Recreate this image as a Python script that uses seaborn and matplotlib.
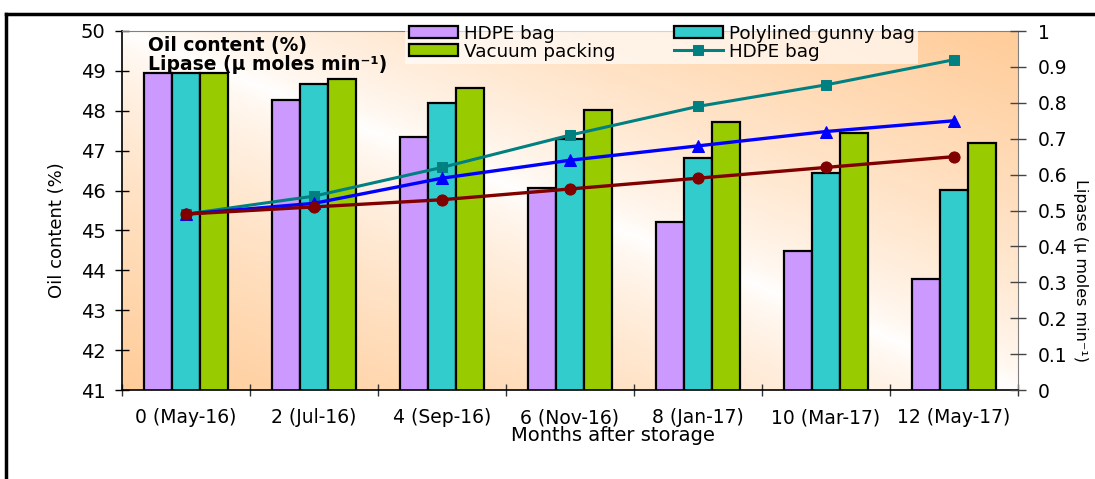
import numpy as np
import pandas as pd
import matplotlib
matplotlib.use("Agg")
import matplotlib.pyplot as plt
import seaborn as sns
from matplotlib.lines import Line2D

# ---------------- data ----------------
months = ["0 (May-16)", "2 (Jul-16)", "4 (Sep-16)", "6 (Nov-16)",
          "8 (Jan-17)", "10 (Mar-17)", "12 (May-17)"]
packages = ["HDPE bag", "Polylined gunny bag", "Vacuum packing"]
oil_hdpe = [48.95, 48.27, 47.35, 46.06, 45.20, 44.49, 43.78]
oil_poly = [48.95, 48.68, 48.20, 47.30, 46.82, 46.43, 46.02]
oil_vacuum = [48.95, 48.80, 48.56, 48.03, 47.73, 47.44, 47.18]
lipase_hdpe = [0.49, 0.54, 0.62, 0.71, 0.79, 0.85, 0.92]
lipase_poly = [0.49, 0.52, 0.59, 0.64, 0.68, 0.72, 0.75]
lipase_vacuum = [0.49, 0.51, 0.53, 0.56, 0.59, 0.62, 0.65]
oil_ticks = [41, 42, 43, 44, 45, 46, 47, 48, 49, 50]
lipase_ticks = [0, 0.1, 0.2, 0.3, 0.4, 0.5, 0.6, 0.7, 0.8, 0.9, 1]

bar_colors = {"HDPE bag": "#CC99FF", "Polylined gunny bag": "#33CCCC",
              "Vacuum packing": "#99CC00"}

plt.rcParams['font.family'] = ['DejaVu Sans']

df = pd.DataFrame({
    "month": months * 3,
    "package": sum([[p] * len(months) for p in packages], []),
    "oil": oil_hdpe + oil_poly + oil_vacuum,
})

fig = plt.figure(figsize=(10.95, 4.79), dpi=100)
fig.patch.set_facecolor("white")
ax = fig.add_axes([122 / 1095, 1 - 390 / 479, (1018 - 122) / 1095, (390 - 31) / 479])

# background gradient (orange corners, white diagonal)
gx, gy = np.meshgrid(np.linspace(0, 1, 300), np.linspace(0, 1, 300))
s = (gx + gy) / 2.0
w = np.clip(np.abs(2 * s - 1), 0, 1) ** 0.7
orange = np.array([255, 204, 153]) / 255.0
img = (1 - w)[..., None] * np.ones(3) + w[..., None] * orange
ax.imshow(img, origin="lower", extent=(0, 1, 0, 1), transform=ax.transAxes,
          aspect="auto", zorder=0, interpolation="bilinear")
ax.patch.set_visible(False)

sns.barplot(data=df, x="month", y="oil", hue="package", order=months,
            hue_order=packages, palette=bar_colors, width=0.656,
            edgecolor="black", linewidth=1.6, saturation=1, ax=ax,
            zorder=2, legend=True)

ax.set_ylim(41, 50)
ax.set_xlim(-0.5, 6.5)
ax.set_yticks(oil_ticks)
ax.set_yticklabels([str(t) for t in oil_ticks], fontsize=14)
ax.tick_params(axis="y", direction="inout", length=9.5, width=1, pad=7, colors="black")
ax.set_xticks(range(len(months)))
ax.set_xticklabels(months, fontsize=13.5)
ax.tick_params(axis="x", which="major", length=0, pad=13)
ax.set_xticks(np.arange(-0.5, len(months), 1.0), minor=True)
ax.tick_params(axis="x", which="minor", direction="inout", length=9, width=1, color="#333333")
ax.set_xlabel("Months after storage", fontsize=14)
ax.xaxis.set_label_coords(0.548, -0.100)
ax.set_ylabel("Oil content (%)", fontsize=13)
ax.yaxis.set_label_coords(-0.0625, 0.445)
for side in ["top", "right"]:
    ax.spines[side].set_color("#808080")
ax.spines["left"].set_color("black")
ax.spines["bottom"].set_color("black")
ax.spines["left"].set_linewidth(1.2)
ax.spines["bottom"].set_linewidth(1.2)
bar_handles, bar_labels = ax.get_legend_handles_labels()
ax.get_legend().remove()

ax2 = ax.twinx()
xpos = np.arange(len(months))
sns.lineplot(x=xpos, y=lipase_hdpe, color="#008080", marker="s", markersize=7,
             markeredgecolor="#008080", linewidth=2.2, ax=ax2, label="HDPE bag", zorder=5)
sns.lineplot(x=xpos, y=lipase_poly, color="#0000FF", marker="^", markersize=8,
             markeredgecolor="#0000FF", linewidth=2.4, ax=ax2, zorder=5)
sns.lineplot(x=xpos, y=lipase_vacuum, color="#800000", marker="o", markersize=8,
             markeredgecolor="#800000", linewidth=2.4, ax=ax2, zorder=5)
line_handles, line_labels = ax2.get_legend_handles_labels()
if ax2.get_legend() is not None:
    ax2.get_legend().remove()
ax2.set_ylim(0, 1)
ax2.set_xlim(-0.5, 6.5)
ax2.set_yticks(lipase_ticks)
ax2.set_yticklabels([f"{t:g}" for t in lipase_ticks], fontsize=13.5)
ax2.tick_params(axis="y", direction="inout", length=11, width=1, pad=9, color="#444444")
ax2.set_ylabel("Lipase (µ moles min⁻¹)", fontsize=11.5, rotation=270)
ax2.yaxis.set_label_coords(1.078, 0.334)
for side in ["top", "right", "left", "bottom"]:
    ax2.spines[side].set_visible(False)
ax.spines["right"].set_visible(True)

# legend
hmap = dict(zip(bar_labels, bar_handles))
handles = [hmap["HDPE bag"], hmap["Vacuum packing"], hmap["Polylined gunny bag"], line_handles[0]]
labels = ["HDPE bag", "Vacuum packing", "Polylined gunny bag", "HDPE bag"]
leg = fig.legend(handles, labels, ncol=2, loc="upper left",
                 bbox_to_anchor=(405 / 1095, 1 - 21 / 479), fontsize=13.2,
                 frameon=True, handlelength=2.7, handleheight=0.65,
                 handletextpad=0.3, columnspacing=3.2, labelspacing=0.0,
                 borderpad=0.2, borderaxespad=0)
leg.get_frame().set_facecolor("white")
leg.get_frame().set_alpha(0.65)
leg.get_frame().set_edgecolor("none")
leg.get_frame().set_boxstyle("square", pad=0)

fig.text(148 / 1095, 1 - 45 / 479, "Oil content (%)", fontsize=13.5,
         fontweight="bold", va="center", ha="left")
fig.text(148 / 1095, 1 - 65 / 479, "Lipase (µ moles min⁻¹)", fontsize=13.5,
         fontweight="bold", va="center", ha="left")

# outer frame
fig.add_artist(Line2D([6 / 1095, 1.0], [1 - 14 / 479, 1 - 14 / 479],
                      transform=fig.transFigure, color="black", linewidth=2.5))
fig.add_artist(Line2D([6 / 1095, 6 / 1095], [0, 1 - 14 / 479],
                      transform=fig.transFigure, color="black", linewidth=2.5))

fig.savefig("out.png", dpi=100)
